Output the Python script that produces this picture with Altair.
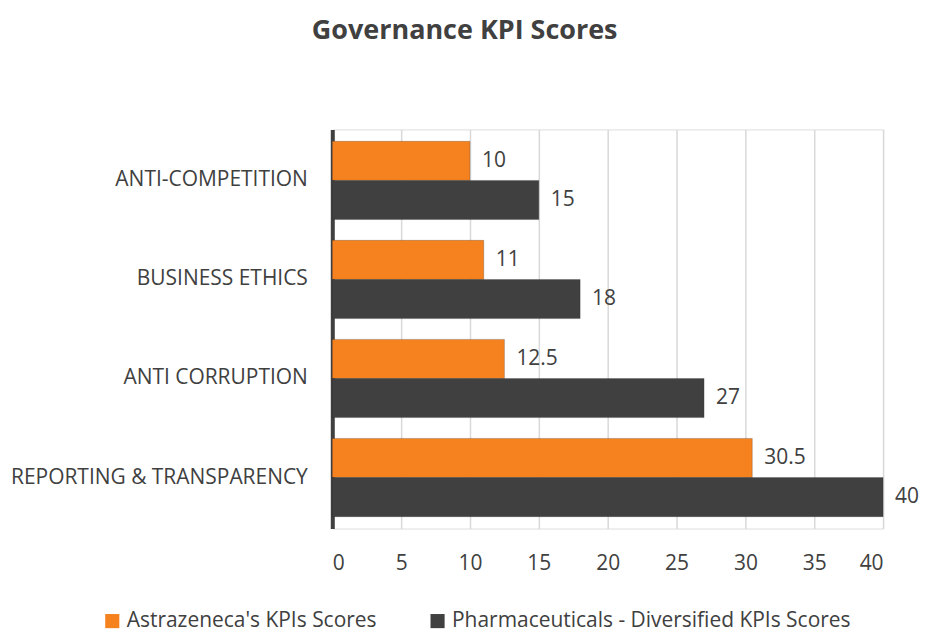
import altair as alt
import pandas as pd

categories = ["ANTI-COMPETITION", "BUSINESS ETHICS", "ANTI CORRUPTION", "REPORTING & TRANSPARENCY"]
series_names = ["Astrazeneca's KPIs Scores", "Pharmaceuticals - Diversified KPIs Scores"]
astrazeneca = [10, 11, 12.5, 30.5]
pharma = [15, 18, 27, 40]
colors = ["#F5821F", "#404040"]

rows = []
for c, a, p in zip(categories, astrazeneca, pharma):
    rows.append({"category": c, "series": series_names[0], "value": a, "label": f"{a:g}"})
    rows.append({"category": c, "series": series_names[1], "value": p, "label": f"{p:g}"})
df = pd.DataFrame(rows)

FONT = "Open Sans"
TXT = "#404040"

y_enc = alt.Y("category:N", sort=categories, title=None,
              scale=alt.Scale(paddingInner=0.21, paddingOuter=0.12),
              axis=alt.Axis(labelFontSize=21, labelColor=TXT, labelFont=FONT,
                            labelPadding=25, ticks=False, domainColor="#404040",
                            domainWidth=4, labelLimit=400))
x_enc = alt.X("value:Q", title=None,
              scale=alt.Scale(domain=[0, 40], nice=False),
              axis=alt.Axis(values=list(range(0, 41, 5)), labelFontSize=21,
                            labelColor=TXT, labelFont=FONT, labelPadding=24,
                            ticks=False, domain=False, gridColor="#d9d9d9",
                            gridWidth=1.5))
yoff = alt.YOffset("series:N", sort=series_names)

bars = alt.Chart(df).mark_bar(stroke="#2a2a2a", strokeOpacity=0.25, strokeWidth=1).encode(
    y=y_enc, x=x_enc, yOffset=yoff,
    color=alt.Color("series:N", sort=series_names,
                    scale=alt.Scale(domain=series_names, range=colors),
                    legend=alt.Legend(title=None, orient="none", direction="horizontal",
                                      legendX=-231, legendY=482,
                                      labelFontSize=21, labelColor=TXT, labelFont=FONT,
                                      symbolType="square", symbolSize=200,
                                      symbolStrokeWidth=0, columnPadding=50,
                                      labelLimit=500)),
)

labels = alt.Chart(df).mark_text(align="left", baseline="middle", dx=12,
                                 fontSize=21, color=TXT, font=FONT).encode(
    y=alt.Y("category:N", sort=categories), x="value:Q", yOffset=yoff, text="label:N"
)

chart = (bars + labels).properties(
    width=552, height=400,
    padding={"left": 2, "right": 0, "top": 8, "bottom": 0},
    title=alt.TitleParams("Governance KPI Scores", fontSize=27, font=FONT,
                          fontWeight="bold", color=TXT, offset=85, frame="bounds",
                          anchor="middle"),
).configure_view(stroke=None).configure(background="white")

chart.save("out.html", embed_options={"renderer": "svg", "actions": False})
